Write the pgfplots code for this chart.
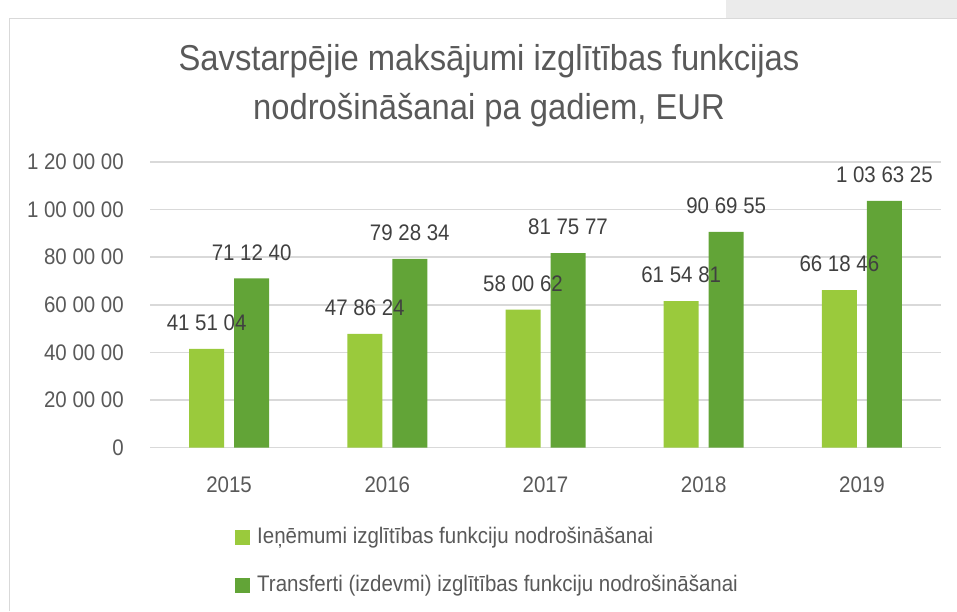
\documentclass[border=0pt]{standalone}
\usepackage{fontspec}
\setmainfont[FakeStretch=0.91]{Liberation Sans}
\usepackage{pgfplots}
\pgfplotsset{compat=1.18}
\definecolor{lgreen}{HTML}{9ACA3C}
\definecolor{dgreen}{HTML}{62A437}
\definecolor{txt}{HTML}{595959}
\definecolor{lbl}{HTML}{404040}
\definecolor{gridc}{HTML}{D9D9D9}
\begin{document}
\begin{tikzpicture}[x=1pt,y=1pt]
\useasboundingbox (0,0) rectangle (957,-611);
\fill[black!8] (726,0) rectangle (957,-18);
\draw[gridc, line width=1.5pt] (9.5,-611) -- (9.5,-18.5) -- (957,-18.5);
\node[text=txt, font=\fontsize{36}{40}\selectfont, anchor=base] at (489,-70) {Savstarpējie maksājumi izglītības funkcijas};
\node[text=txt, font=\fontsize{36}{40}\selectfont, anchor=base] at (489,-119) {nodrošināšanai pa gadiem, EUR};
\begin{axis}[
  at={(150pt,-447.7pt)}, anchor=south west,
  scale only axis, width=791pt, height=285.7pt,
  xmin=-0.5, xmax=4.5, ymin=0, ymax=12000000,
  scaled y ticks=false,
  ybar=10pt, bar width=35pt,
  axis line style={draw=none}, major tick style={draw=none},
  ymajorgrids, grid style={gridc, line width=1.5pt},
  xtick={0,1,2,3,4}, xticklabels={2015,2016,2017,2018,2019},
  ytick={0,2000000,4000000,6000000,8000000,10000000,12000000},
  yticklabels={0,20 00 00,40 00 00,60 00 00,80 00 00,1 00 00 00,1 20 00 00},
  ticklabel style={font=\fontsize{22.5}{26}\selectfont, text=txt},
  yticklabel style={inner sep=0pt, anchor=east, xshift=-26pt},
  xticklabel style={inner sep=0pt, anchor=north, yshift=-25pt},
  point meta=explicit symbolic,
  nodes near coords,
  every node near coord/.append style={font=\fontsize{22.5}{26}\selectfont, text=lbl, anchor=center, inner sep=0pt, yshift=26pt},
  legend style={at={(axis description cs:0,0)}, anchor=north west, xshift=85pt, yshift=-78.8pt, draw=none, fill=none,
    font=\fontsize{22.5}{26}\selectfont, text=txt, row sep=26pt, column sep=7pt, inner sep=0pt,
    nodes={inner sep=0pt, text height=17pt, text depth=5pt}},
  legend cell align=left,
  legend image code/.code={\fill[#1] (0pt,-7.5pt) rectangle (15pt,7.5pt);},
]
\addplot[fill=lgreen, draw=none] coordinates {(0,4151040)[41 51 04] (1,4786240)[47 86 24] (2,5800620)[58 00 62] (3,6154810)[61 54 81] (4,6618460)[66 18 46]};
\addlegendentry{Ieņēmumi izglītības funkciju nodrošināšanai}
\addplot[fill=dgreen, draw=none] coordinates {(0,7112400)[71 12 40] (1,7928340)[79 28 34] (2,8175770)[81 75 77] (3,9069550)[90 69 55] (4,10363250)[1 03 63 25]};
\addlegendentry{Transferti (izdevmi) izglītības funkciju nodrošināšanai}
\end{axis}
\end{tikzpicture}
\end{document}
